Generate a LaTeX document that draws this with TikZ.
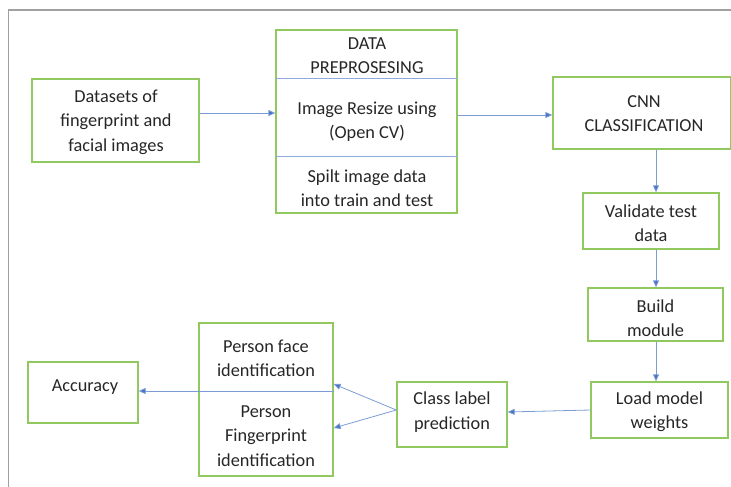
\documentclass[tikz,border=0pt]{standalone}
\usepackage{fontspec}
\setmainfont{Carlito}
\usetikzlibrary{arrows.meta}
\definecolor{boxgreen}{RGB}{146,200,96}
\definecolor{linkblue}{RGB}{68,114,196}
\definecolor{rulegray}{RGB}{160,160,160}
\tikzset{
  stage/.style={draw=boxgreen, line width=1.3pt, inner sep=0pt},
  label/.style={align=center, inner sep=0pt, font=\fontsize{18.3}{24.3}\selectfont, text=black!85},
  link/.style={draw=linkblue!70, line width=0.8pt, -{Triangle[width=6pt,length=7pt,fill=linkblue]}},
  divider/.style={draw=linkblue!60, line width=0.8pt}
}
\begin{document}
\begin{tikzpicture}[x=1pt,y=-1pt]
\useasboundingbox (0,0) rectangle (731,487);
% page frame
\draw[rulegray, line width=1.8pt] (731,10) -- (8.5,10) -- (8.5,487);

% boxes
\node[stage, minimum width=167pt, minimum height=83pt] (data) at (115.5,120.5) {};
\node[stage, minimum width=181pt, minimum height=183pt] (pre) at (366.5,121.5) {};
\node[stage, minimum width=178pt, minimum height=72pt] (cnn) at (642,113) {};
\node[stage, minimum width=136pt, minimum height=56pt] (val) at (651,221) {};
\node[stage, minimum width=135pt, minimum height=53pt] (build) at (655.5,314.5) {};
\node[stage, minimum width=137pt, minimum height=56pt] (load) at (659.5,410) {};
\node[stage, minimum width=110pt, minimum height=65pt] (cls) at (452,414.5) {};
\node[stage, minimum width=134pt, minimum height=153pt] (person) at (266,399.5) {};
\node[stage, minimum width=110pt, minimum height=61pt] (acc) at (83,392.5) {};

% texts
\node[label] (dataT) at (116,122) {Datasets of\\fingerprint and\\facial images};
\node[label] (preA) at (367,56) {DATA\\PREPROSESING};
\node[label] (preB) at (367,122) {Image Resize using\\(Open CV)};
\node[label] (preC) at (367,188.5) {Spilt image data\\into train and test};
\node[label] (cnnT) at (644,113.5) {CNN\\CLASSIFICATION};
\node[label] (valT) at (651,223.5) {Validate test\\data};
\node[label] (buildT) at (655.5,318.5) {Build\\module};
\node[label] (loadT) at (659.5,411.5) {Load model\\weights};
\node[label] (clsT) at (452,412) {Class label\\prediction};
\node[label] (faceT) at (266,358.5) {Person face\\identification};
\node[label] (fingT) at (266,436) {Person\\Fingerprint\\identification};
\node[label] (accT) at (85,387) {Accuracy};

% dividers inside the preprocessing box
\draw[divider] (pre.west |- 0,78) -- (pre.east |- 0,78);
\draw[divider] (pre.west |- 0,156) -- (pre.east |- 0,156);

% connectors
\draw[link] (data.east |- 0,113) -- (pre.west |- 0,113);
\draw[link] (pre.east |- 0,115) -- (cnn.west |- 0,115);
\draw[link] (cnn.south -| 656,0) -- (val.north -| 656,0);
\draw[link] (val.south -| 656,0) -- (build.north -| 656,0);
\draw[link] (build.south -| 656,0) -- (load.north -| 656,0);
\draw[link] (load.west |- 0,410) -- (cls.east |- 0,412);
\coordinate (split) at (cls.west |- 0,410);
\draw[link] (split) -- (person.east |- 0,384);
\draw[link] (split) -- (person.east |- 0,428);
\draw[link] (person.east |- 0,391) -- (acc.east |- 0,391);
\end{tikzpicture}
\end{document}
